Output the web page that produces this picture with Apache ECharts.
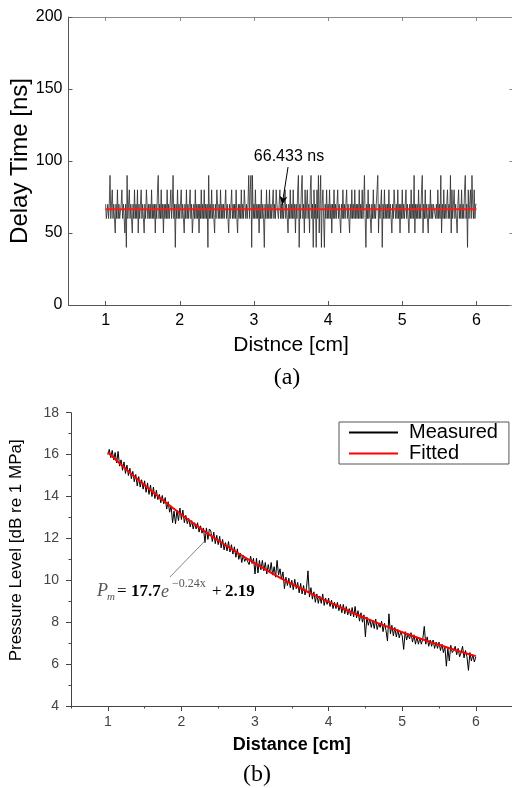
<!DOCTYPE html>
<html>
<head>
<meta charset="utf-8">
<script src="https://cdn.jsdelivr.net/npm/echarts/dist/echarts.min.js"></script>
<style>html,body{margin:0;padding:0;background:#fff}#c{width:512px;height:788px}</style>
</head>
<body>
<div id="c"></div>
<script>
// ---------- Panel (a): delay time ----------
const delayDistStart = 1;
const delayDistStep = 0.01;
const delayTime = [
70,60,60,70,60,70,90,60,70,80,60,70,60,50,70,60,80,60,70,60,
60,70,80,60,70,60,50,70,40,90,60,70,80,60,70,60,50,70,60,80,
60,70,60,80,50,70,60,70,80,60,70,60,50,70,60,80,70,60,70,60,
70,60,80,60,70,60,70,50,70,60,80,90,60,70,60,80,60,70,50,70,
60,70,60,80,60,70,60,70,80,60,70,90,60,70,40,70,60,80,60,70,
60,70,80,60,70,60,50,70,60,80,60,70,60,70,80,60,70,50,60,70,
60,80,60,70,60,70,50,70,60,80,60,70,60,80,60,70,60,70,40,90,
60,70,60,80,60,70,60,50,70,60,80,70,60,70,60,80,60,70,60,70,
60,70,80,60,70,60,50,70,60,70,80,60,70,60,70,60,80,60,50,70,
60,70,60,80,60,70,60,80,70,60,70,60,70,90,60,80,90,40,90,60,
70,60,80,60,70,60,70,50,70,60,80,60,70,60,40,70,60,80,60,70,
60,80,60,70,60,70,80,60,70,60,80,70,70,60,70,80,60,70,60,70,
60,70,80,60,70,60,50,70,60,80,60,70,60,80,60,70,50,70,60,80,
90,40,70,60,80,90,60,70,50,80,60,70,80,60,70,50,80,90,60,70,
40,80,60,70,40,80,60,90,50,70,90,40,70,80,60,40,70,60,80,60,
70,60,80,60,70,50,70,60,80,60,70,60,70,80,60,70,60,50,70,60,
80,60,70,60,70,80,60,70,60,50,70,60,80,60,70,60,80,60,70,60,
70,60,80,60,70,60,80,60,70,90,60,40,70,60,80,60,70,60,50,70,
60,80,60,70,60,70,80,90,50,70,60,70,80,40,70,60,80,60,70,60,
70,60,80,60,70,60,50,70,60,80,70,60,70,60,80,60,70,50,70,60,
80,60,70,60,70,80,60,70,60,50,70,60,80,60,70,60,90,50,70,60,
70,60,80,60,70,60,80,90,50,70,60,80,60,70,60,50,70,60,80,60,
70,60,70,70,70,60,70,60,80,60,70,60,90,50,70,60,80,60,70,60,
60,80,60,70,60,90,50,80,60,70,80,60,70,60,50,70,80,60,70,60,
80,60,70,60,80,90,60,70,40,80,60,70,80,60,90,70,60,80,60,70,
70
];
const meanDelay = 66.433;
const meanDelayRange = [1, 6];
const distanceTicks = [1, 2, 3, 4, 5, 6];
const distanceHalfTicks = [0.5, 1.5, 2.5, 3.5, 4.5, 5.5, 6.5];

// ---------- Panel (b): pressure level ----------
const pressureDistStart = 1;
const pressureDistStep = 0.02;
const pressureMeasured = [
16.0,16.25,15.85,16.2,15.75, 16.1,15.6,16.15,15.45,15.75,
15.25,15.65,15.1,15.5,15.0, 15.35,14.85,15.2,14.7,15.05,
14.5,14.95,14.45,14.8,14.35, 14.75,14.2,14.65,14.1,14.55,
14.0,14.45,13.9,14.3,13.85, 14.1,13.7,14.05,13.65,13.95,
13.4,13.75,13.25,13.55,12.75, 13.3,12.7,13.35,12.85,13.45,
12.9,13.35,12.75,13.1,12.7, 12.95,12.55,12.85,12.45,12.75,
12.45,12.75,12.3,12.6,12.25, 12.5,11.8,12.5,11.95,12.45,
12.35,11.85,12.3,11.75,12.15, 11.7,12.1,11.55,11.95,11.45,
11.8,11.4,11.85,11.35,11.7, 11.25,11.6,11.1,11.5,11.0,
11.3,10.85,11.2,10.9,11.05, 11.1,10.75,11.15,10.8,11.05,
10.3,11.05,10.35,10.95,10.5, 10.95,10.45,10.85,10.3,10.75,
10.35,10.85,10.25,10.65,10.15, 10.95,10.25,10.55,10.05,10.4,
9.6,10.15,9.75,10.1,9.65, 10.0,9.55,10.05,9.6,9.9,
9.4,9.85,9.35,9.75,9.3, 9.65,10.45,9.2,9.65,9.1,
9.45,8.95,9.35,8.9,9.25, 8.9,9.35,8.8,9.15,8.85,
9.15,8.75,9.05,8.65,8.95, 8.65,8.95,8.55,8.85,8.45,
8.85,8.4,8.75,8.35,8.65, 8.3,8.7,8.25,8.75,8.2,
8.55,8.05,8.45,8.0,8.35, 7.3,8.25,7.85,8.15,7.75,
8.1,7.7,8.15,7.65,7.95, 7.75,8.05,7.55,7.95,7.6,
7.1,8.4,7.45,7.85,7.35, 7.75,7.3,7.65,7.25,7.55,
7.35,6.7,7.55,7.15,7.45, 7.2,7.5,7.05,7.4,6.95,
7.3,6.95,7.25,6.95,7.2, 7.8,6.95,7.3,6.85,7.15,
6.85,7.15,6.75,7.05,6.75, 7.05,6.65,6.95,6.55,6.85,
5.9,6.75,6.15,6.9,6.55, 6.65,6.85,6.45,6.75,6.35,
6.55,6.85,6.3,6.65,6.35, 5.7,6.55,6.15,6.45,6.1,
6.35
];
const fittedDistance = [1,1.25,1.5,1.75,2,2.25,2.5,2.75,3,3.25,3.5,3.75,4,4.25,4.5,4.75,5,5.25,5.5,5.75,6];
const fittedPressure = [16.11,15.30,14.54,13.82,13.14,12.50,11.90,11.34,10.81,10.30,9.83,9.39,8.97,8.57,8.20,7.85,7.52,7.21,6.92,6.64,6.38];

// annotation anchors (data coordinates)
const delayArrow = [[3.46, 95.8], [3.38, 69.4]];
const fitPointer = [[1.845, 10.16], [2.32, 11.88]];

const delayPairs = delayTime.map((v, i) => [delayDistStart + i * delayDistStep, v]);
const pressurePairs = pressureMeasured.map((v, i) => [pressureDistStart + i * pressureDistStep, v]);
const fittedPairs = fittedPressure.map((v, i) => [fittedDistance[i], v]);

const SANS = 'Liberation Sans, Arial, sans-serif';
const SERIF = 'Liberation Serif, Times New Roman, serif';

const chart = echarts.init(document.getElementById('c'), null, {renderer: 'canvas'});
chart.setOption({
  animation: false,
  backgroundColor: '#fff',
  grid: [
    {left: 68.5, top: 17, width: 445, height: 288, outerBoundsMode: 'none', containLabel: false},
    {left: 71, top: 412.7, width: 441.6, height: 293.3, outerBoundsMode: 'none', containLabel: false}
  ],
  legend: {
    data: ['Measured', 'Fitted'],
    orient: 'vertical',
    left: 339, top: 422,
    borderColor: '#555', borderWidth: 1, borderRadius: 0,
    backgroundColor: '#fff',
    padding: [0, 11, 0, 9],
    itemWidth: 49, itemHeight: 10, itemGap: 0,
    itemStyle: {opacity: 0},
    textStyle: {fontFamily: SANS, fontSize: 20, color: '#000', lineHeight: 21, padding: [0, 0, 0, 6]}
  },
  xAxis: [
    {gridIndex: 0, type: 'value', position: 'bottom', min: 0.5, max: 6.5,
      axisLine: {onZero: false, lineStyle: {color: '#555'}},
      axisTick: {inside: true, length: 4, customValues: distanceTicks, lineStyle: {color: '#555'}},
      axisLabel: {customValues: distanceTicks, fontFamily: SANS, fontSize: 16, color: '#000', margin: 8},
      splitLine: {show: false},
      name: 'Distnce [cm]', nameLocation: 'middle', nameGap: 30, nameMoveOverlap: false,
      nameTextStyle: {fontFamily: SANS, fontSize: 21, color: '#000'}},
    {gridIndex: 0, type: 'value', position: 'top', min: 0.5, max: 6.5,
      axisLine: {onZero: false, lineStyle: {color: '#888'}},
      axisTick: {inside: true, length: 4, customValues: distanceTicks, lineStyle: {color: '#888'}},
      axisLabel: {show: false}, splitLine: {show: false}},
    {gridIndex: 1, type: 'value', position: 'bottom', min: 0.5, max: 6.5,
      axisLine: {onZero: false, lineStyle: {color: '#444'}},
      axisTick: {length: 5, customValues: distanceTicks, lineStyle: {color: '#444'}},
      axisLabel: {customValues: distanceTicks, fontFamily: SANS, fontSize: 14, color: '#444', margin: 9},
      splitLine: {show: false},
      name: 'Distance [cm]', nameLocation: 'middle', nameGap: 30, nameMoveOverlap: false,
      nameTextStyle: {fontFamily: SANS, fontSize: 18, fontWeight: 'bold', color: '#000'}},
    {gridIndex: 1, type: 'value', position: 'bottom', min: 0.5, max: 6.5,
      axisLine: {show: false, onZero: false},
      axisTick: {length: 2.5, customValues: distanceHalfTicks, lineStyle: {color: '#444'}},
      axisLabel: {show: false}, splitLine: {show: false}}
  ],
  yAxis: [
    {gridIndex: 0, type: 'value', position: 'left', min: 0, max: 200, interval: 50,
      axisLine: {show: true, onZero: false, lineStyle: {color: '#555'}},
      axisTick: {show: true, inside: true, length: 4, lineStyle: {color: '#555'}},
      axisLabel: {fontFamily: SANS, fontSize: 16, color: '#000', margin: 6},
      splitLine: {show: false},
      name: 'Delay Time [ns]', nameLocation: 'middle', nameGap: 36, nameMoveOverlap: false,
      nameTextStyle: {fontFamily: SANS, fontSize: 24, color: '#000'}},
    {gridIndex: 0, type: 'value', position: 'right', min: 0, max: 200, interval: 50,
      axisLine: {show: true, onZero: false, lineStyle: {color: '#888'}},
      axisTick: {show: true, inside: true, length: 4, lineStyle: {color: '#888'}},
      axisLabel: {show: false}, splitLine: {show: false}},
    {gridIndex: 1, type: 'value', position: 'left', min: 4, max: 18, interval: 2,
      axisLine: {show: true, onZero: false, lineStyle: {color: '#444'}},
      axisTick: {show: true, length: 5, lineStyle: {color: '#444'}},
      minorTick: {show: true, splitNumber: 2, length: 2.5, lineStyle: {color: '#444'}},
      axisLabel: {fontFamily: SANS, fontSize: 14, color: '#444', margin: 12},
      splitLine: {show: false},
      name: 'Pressure Level [dB re 1 MPa]', nameLocation: 'middle', nameGap: 46,
      nameTextStyle: {fontFamily: SANS, fontSize: 17, color: '#000', padding: [0, 0, 0, 18]}}
  ],
  series: [
    {name: 'Delay', type: 'line', xAxisIndex: 0, yAxisIndex: 0, data: delayPairs,
      symbol: 'none', silent: true, lineStyle: {color: '#2a2a2a', width: 0.8}},
    {name: 'Mean delay', type: 'line', xAxisIndex: 0, yAxisIndex: 0,
      data: meanDelayRange.map(x => [x, meanDelay]),
      symbol: 'none', silent: true, lineStyle: {color: '#ff1a1a', width: 2},
      markLine: {silent: true, symbol: ['none', 'arrow'], symbolSize: [6, 9],
        lineStyle: {color: '#000', width: 1, type: 'solid'}, label: {show: false},
        data: [[{coord: delayArrow[0]}, {coord: delayArrow[1]}]]}},
    {name: 'Measured', type: 'line', xAxisIndex: 2, yAxisIndex: 2, data: pressurePairs,
      symbol: 'none', silent: true, lineStyle: {color: '#000', width: 1}, itemStyle: {color: '#000'}},
    {name: 'Fitted', type: 'line', xAxisIndex: 2, yAxisIndex: 2, data: fittedPairs,
      smooth: true, symbol: 'none', silent: true, lineStyle: {color: '#ff0000', width: 2}, itemStyle: {color: '#ff0000'},
      markLine: {silent: true, symbol: ['none', 'none'],
        lineStyle: {color: '#666', width: 0.8, type: 'solid'}, label: {show: false},
        data: [[{coord: fitPointer[0]}, {coord: fitPointer[1]}]]}}
  ],
  graphic: [
    {type: 'text', x: 289, y: 157, style: {text: '66.433 ns', font: '16px ' + SANS, fill: '#000', textAlign: 'center', textVerticalAlign: 'middle'}},
    {type: 'text', x: 287, y: 378, style: {text: '(a)', font: '24px ' + SERIF, fill: '#000', textAlign: 'center', textVerticalAlign: 'middle'}},
    {type: 'text', x: 257, y: 775, style: {text: '(b)', font: '24px ' + SERIF, fill: '#000', textAlign: 'center', textVerticalAlign: 'middle'}},
    {type: 'text', x: 97, y: 591, style: {text: 'P', font: 'italic 18px ' + SERIF, fill: '#555', textAlign: 'left', textVerticalAlign: 'middle'}},
    {type: 'text', x: 107, y: 597, style: {text: 'm', font: 'italic 11px ' + SERIF, fill: '#555', textAlign: 'left', textVerticalAlign: 'middle'}},
    {type: 'text', x: 117, y: 592, style: {text: '=', font: '17px ' + SERIF, fill: '#000', textAlign: 'left', textVerticalAlign: 'middle'}},
    {type: 'text', x: 131, y: 592, style: {text: '17.7', font: 'bold 17px ' + SERIF, fill: '#000', textAlign: 'left', textVerticalAlign: 'middle'}},
    {type: 'text', x: 161, y: 592, style: {text: 'e', font: 'italic 18px ' + SERIF, fill: '#555', textAlign: 'left', textVerticalAlign: 'middle'}},
    {type: 'text', x: 172, y: 584, style: {text: '\u22120.24x', font: '12px ' + SERIF, fill: '#555', textAlign: 'left', textVerticalAlign: 'middle'}},
    {type: 'text', x: 212, y: 592, style: {text: '+', font: '17px ' + SERIF, fill: '#000', textAlign: 'left', textVerticalAlign: 'middle'}},
    {type: 'text', x: 225, y: 592, style: {text: '2.19', font: 'bold 17px ' + SERIF, fill: '#000', textAlign: 'left', textVerticalAlign: 'middle'}}
  ]
});
</script>
</body>
</html>
